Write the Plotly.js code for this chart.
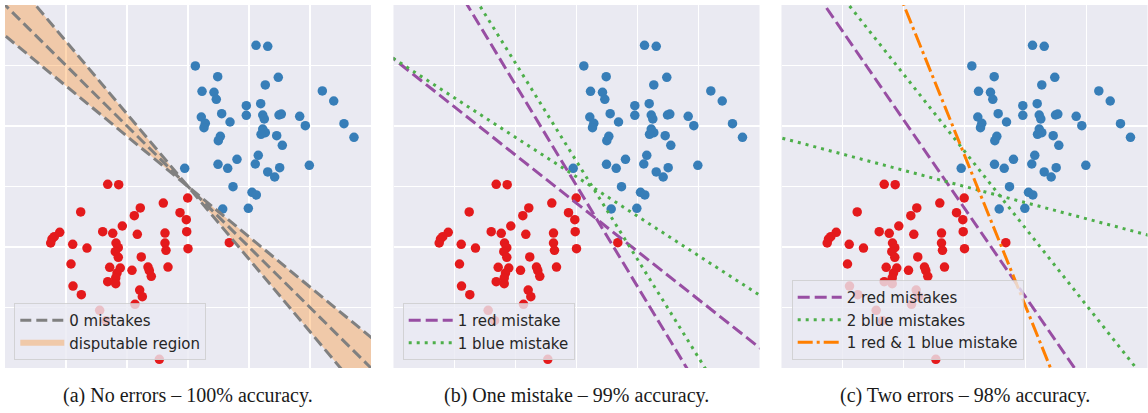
<!DOCTYPE html>
<html><head><meta charset="utf-8">
<script src="https://cdn.plot.ly/plotly-3.0.1.min.js"></script>
<style>html,body{margin:0;padding:0;background:#fff}#chart{width:1148px;height:413px}</style>
</head><body><div id="chart"></div>
<script>
// ---- data (grid units, both axes 0..6) ----
const redX = [1.684,1.864,2.595,2.995,1.241,2.218,2.120,2.869,2.972,1.923,1.602,1.766,2.169,2.623,2.979,0.897,0.808,0.770,0.749,1.110,1.344,1.820,1.857,1.808,2.623,2.639,3.000,3.677,1.857,2.234,1.082,1.716,1.890,2.082,2.344,2.366,2.398,2.672,1.836,1.815,1.684,1.815,1.115,1.251,2.208,2.251,2.131,1.552,1.656,2.530];
const redY = [3.036,3.030,2.727,2.810,2.579,2.645,2.517,2.567,2.451,2.347,2.253,2.226,2.210,2.231,2.253,2.243,2.170,2.132,2.066,2.045,1.983,2.066,1.988,1.922,2.066,1.945,1.972,2.071,1.830,1.835,1.719,1.664,1.653,1.615,1.669,1.608,1.516,1.669,1.570,1.488,1.426,1.393,1.355,1.212,1.289,1.179,1.053,0.954,0.782,0.144];
const blueX = [4.115,4.307,3.120,3.487,4.480,4.267,3.230,3.426,3.464,5.202,5.389,3.956,4.192,3.552,3.956,4.225,4.251,4.492,4.530,4.831,3.218,3.284,3.262,3.689,4.923,5.557,5.721,4.225,4.267,4.197,4.454,3.530,3.497,4.546,4.152,3.803,2.946,3.492,3.651,4.103,4.503,4.989,4.307,4.421,3.738,4.049,4.120,3.569,3.989];
const blueY = [5.334,5.317,4.992,4.815,4.805,4.678,4.574,4.557,4.441,4.579,4.413,4.336,4.369,4.203,4.177,4.182,4.116,4.182,4.198,4.160,4.149,4.045,3.972,4.066,4.005,4.038,3.813,3.950,3.889,3.863,3.840,3.830,3.757,3.681,3.516,3.450,3.301,3.367,3.301,3.372,3.311,3.350,3.240,3.157,2.997,2.904,2.860,2.628,2.640];

// separating lines, each given by two points [x1, y1, x2, y2]
const zeroMistakeLines = [[0.5,6,5.5,0],[0,6,6,0],[0,5.493,6,0.507]];
const disputableBounds = [[0.5,6,5.5,0],[0,5.493,6,0.507]]; // steep, shallow (cross at 3,3)
const oneRedLines  = [[1.210,6,4.807,0],[0.025,5.091,5.98,0.352]];
const oneBlueLines = [[1.407,6,5.107,0],[0.025,5.10,5.997,1.207]];
const twoRedLines  = [[0.705,6,4.803,0]];
const twoBlueLines = [[1.103,6,5.813,0],[0.021,3.797,6.005,2.198]];
const mixedLines   = [[2.005,6,4.41,0]];

const legendLabels = [["0 mistakes","disputable region"],["1 red mistake","1 blue mistake"],["2 red mistakes","2 blue mistakes","1 red & 1 blue mistake"]];
const captions = ["(a) No errors – 100% accuracy.","(b) One mistake – 99% accuracy.","(c) Two errors – 98% accuracy."];

// ---- helpers ----
const XL = -1, XR = 7;
function yAt(l, x){ const m=(l[3]-l[1])/(l[2]-l[0]); return l[1]+m*(x-l[0]); }
function linesXY(ls){
  const x=[], y=[];
  ls.forEach((l,i)=>{ if(i){x.push(null);y.push(null);} x.push(XL,XR); y.push(yAt(l,XL),yAt(l,XR)); });
  return {x,y};
}
function bowtie(steep, shallow){
  const m1=(steep[3]-steep[1])/(steep[2]-steep[0]), m2=(shallow[3]-shallow[1])/(shallow[2]-shallow[0]);
  const b1=steep[1]-m1*steep[0], b2=shallow[1]-m2*shallow[0];
  const cx=(b2-b1)/(m1-m2), cy=m1*cx+b1;
  return {x:[XL,cx,XR,XR,cx,XL,XL], y:[yAt(steep,XL),cy,yAt(steep,XR),yAt(shallow,XR),cy,yAt(shallow,XL),yAt(steep,XL)]};
}

const RED='#e41a1c', BLUE='#377eb8', PURPLE='#984ea3', GREEN='#4daf4a', ORANGE='#ff7f00', GRAY='#808080';
const axSuffix=['','2','3'];
const traces=[];

const bt=bowtie(disputableBounds[0],disputableBounds[1]);
traces.push({x:bt.x,y:bt.y,mode:'none',fill:'toself',fillcolor:'rgba(255,127,0,0.3)',name:legendLabels[0][1],
  xaxis:'x',yaxis:'y',legend:'legend',legendrank:2,hoverinfo:'skip'});

axSuffix.forEach(s=>{
  traces.push({x:redX,y:redY,mode:'markers',marker:{color:RED,size:9.5},showlegend:false,xaxis:'x'+s,yaxis:'y'+s});
  traces.push({x:blueX,y:blueY,mode:'markers',marker:{color:BLUE,size:9.5},showlegend:false,xaxis:'x'+s,yaxis:'y'+s});
});

function lineTrace(ls,name,color,dash,s,leg,rank){
  const d=linesXY(ls);
  return {x:d.x,y:d.y,mode:'lines',connectgaps:false,name:name,line:{color:color,width:3,dash:dash},
    xaxis:'x'+s,yaxis:'y'+s,legend:leg,legendrank:rank,hoverinfo:'skip'};
}
traces.push(lineTrace(zeroMistakeLines,legendLabels[0][0],GRAY,'11px,5px','', 'legend',1));
traces.push(lineTrace(oneRedLines,legendLabels[1][0],PURPLE,'12px,5px','2','legend2',1));
traces.push(lineTrace(oneBlueLines,legendLabels[1][1],GREEN,'3px,5px','2','legend2',2));
traces.push(lineTrace(twoRedLines,legendLabels[2][0],PURPLE,'12px,5px','3','legend3',1));
traces.push(lineTrace(twoBlueLines,legendLabels[2][1],GREEN,'3px,5px','3','legend3',2));
traces.push(lineTrace(mixedLines,legendLabels[2][2],ORANGE,'15px,4px,3px,4px','3','legend3',3));

const W=1148,H=413;
const xDomPx=[[5,371],[393.5,759.5],[781.5,1147.5]];
const yDom=[(H-368)/H,(H-5)/H];
function axis(dom){return {domain:dom,range:[0,6],tickvals:[1,2,3,4,5],showticklabels:false,ticks:'',
  showgrid:true,gridcolor:'#ffffff',gridwidth:1.5,zeroline:false,showline:false,fixedrange:true};}
const legFont={family:'DejaVu Sans',size:15,color:'#262626'};
function leg(xpx){return {x:xpx/W,y:(H-360)/H,xanchor:'left',yanchor:'bottom',bgcolor:'rgba(234,234,242,0.8)',
  bordercolor:'rgba(204,204,204,0.8)',borderwidth:1,font:legFont,traceorder:'normal',itemwidth:44,tracegroupgap:0};}

const layout={width:W,height:H,margin:{l:0,r:0,t:0,b:0},paper_bgcolor:'#ffffff',plot_bgcolor:'#eaeaf2',
  showlegend:true,
  legend:leg(14.3),legend2:leg(402.7),legend3:leg(791.7),
  annotations:captions.map((c,i)=>({text:c,xref:'paper',yref:'paper',x:(xDomPx[i][0]+xDomPx[i][1])/2/W,y:(H-395)/H,
    xanchor:'center',yanchor:'middle',showarrow:false,font:{family:'Liberation Serif',size:20,color:'#1a1a1a'}}))
};
axSuffix.forEach((s,i)=>{
  const dom=[xDomPx[i][0]/W,xDomPx[i][1]/W];
  layout['xaxis'+s]=axis(dom); layout['yaxis'+s]=axis(yDom);
  layout['xaxis'+s].anchor='y'+s; layout['yaxis'+s].anchor='x'+s;
});
Plotly.newPlot('chart',traces,layout,{staticPlot:true,displayModeBar:false});
</script></body></html>
